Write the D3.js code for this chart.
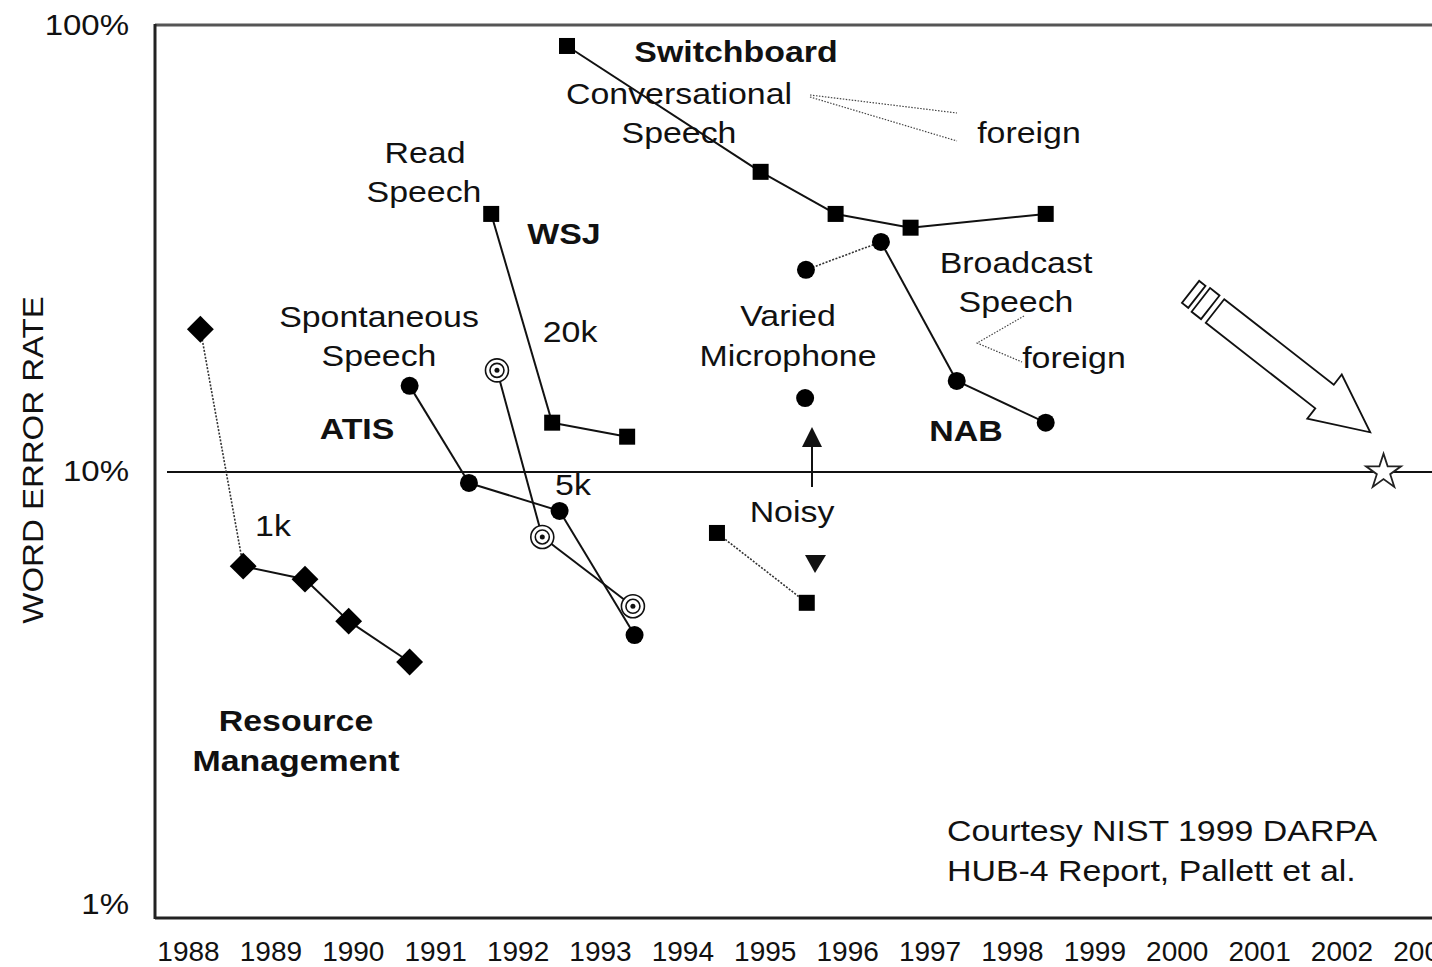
<!DOCTYPE html>
<html>
<head>
<meta charset="utf-8">
<script src="https://cdn.jsdelivr.net/npm/d3@7"></script>
<style>
  html, body { margin: 0; padding: 0; background: #fff; overflow: hidden; }
  text { font-family: "Liberation Sans", Arial, sans-serif; fill: #111; }
</style>
</head>
<body>
<script>
// ---------------- DATA ----------------
const yearTicks = [1988,1989,1990,1991,1992,1993,1994,1995,1996,1997,1998,1999,2000,2001,2002,2003];
const yTicks = [1, 10, 100];
const yTickLabels = ["1%", "10%", "100%"];

// Resource Management (1k) - diamonds
const rmYears = [1988.15, 1988.67, 1989.42, 1989.95, 1990.69];
const rmWER   = [20.9, 6.15, 5.75, 4.63, 3.75];
// ATIS spontaneous speech - filled circles
const atisYears = [1990.69, 1991.41, 1992.51, 1993.42];
const atisWER   = [15.6, 9.45, 8.18, 4.31];
// WSJ read speech 20k - squares
const wsj20kYears = [1991.68, 1992.42, 1993.33];
const wsj20kWER   = [37.9, 12.9, 12.0];
// WSJ read speech 5k - concentric circles
const wsj5kYears = [1991.75, 1992.30, 1993.40];
const wsj5kWER   = [16.9, 7.15, 5.0];
// Switchboard conversational speech - squares
const swbYears = [1992.60, 1994.95, 1995.86, 1996.77, 1998.41];
const swbWER   = [90.2, 47.1, 37.9, 35.3, 37.9];
// NAB / Broadcast speech - filled circles
const nabYears = [1995.50, 1996.41, 1997.33, 1998.41];
const nabWER   = [28.4, 32.8, 16.0, 12.9];
// Varied microphone - single circle
const micYears = [1995.49];
const micWER   = [14.65];
// Noisy - squares
const noisyYears = [1994.42, 1995.51];
const noisyWER   = [7.3, 5.09];
// Goal star
const goalYears = [2002.51];
const goalWER   = [10];

// ---------------- CHART ----------------
const W = 1432, H = 967;
const svg = d3.select("body").append("svg").attr("width", W).attr("height", H)
  .style("background", "#fff");

const x = d3.scaleLinear().domain([1988, 2002]).range([188, 1341.5]);
const y = d3.scaleLog().domain([1, 100]).range([918, 26]);

const zip = (a, b) => a.map((v, i) => [v, b[i]]);

// frame
svg.append("line").attr("x1", 155).attr("x2", W).attr("y1", 25).attr("y2", 25)
  .attr("stroke", "#555").attr("stroke-width", 3);
svg.append("line").attr("x1", 155).attr("x2", 155).attr("y1", 24).attr("y2", 919)
  .attr("stroke", "#222").attr("stroke-width", 3);
svg.append("line").attr("x1", 155).attr("x2", W).attr("y1", y(1)).attr("y2", y(1))
  .attr("stroke", "#222").attr("stroke-width", 3);
// 10% reference line
svg.append("line").attr("x1", 167).attr("x2", W).attr("y1", y(10)).attr("y2", y(10))
  .attr("stroke", "#111").attr("stroke-width", 2);

// x axis labels
const xAxis = d3.axisBottom(x).tickValues(yearTicks).tickFormat(d3.format("d"))
  .tickSize(0).tickPadding(23);
const gx = svg.append("g").attr("transform", `translate(0,${y(1)})`).call(xAxis);
gx.select(".domain").remove();
gx.selectAll("text").style("font-size", "28px").style("font-family", "Liberation Sans, Arial, sans-serif").attr("fill", "#111");

// y tick labels
yTicks.forEach((v, i) => {
  const off = v === 1 ? -4 : 9;
  svg.append("text")
    .attr("transform", `translate(129,${y(v) + off}) scale(1.1,1)`)
    .attr("text-anchor", "end").style("font-size", "30px")
    .text(yTickLabels[i]);
});

// y axis title
svg.append("text")
  .attr("transform", "translate(43,460) rotate(-90) scale(1.1,1)")
  .attr("text-anchor", "middle").style("font-size", "30px")
  .text("WORD ERROR RATE");

// ---- series lines ----
function drawSeries(pts, dotted) {
  for (let i = 0; i < pts.length - 1; i++) {
    const isDot = dotted[i];
    svg.append("line")
      .attr("x1", x(pts[i][0])).attr("y1", y(pts[i][1]))
      .attr("x2", x(pts[i + 1][0])).attr("y2", y(pts[i + 1][1]))
      .attr("stroke", isDot ? "#333" : "#111")
      .attr("stroke-width", isDot ? 1.6 : 2)
      .attr("stroke-dasharray", isDot ? "2,1.5" : null);
  }
}
const rmPts = zip(rmYears, rmWER);
const atisPts = zip(atisYears, atisWER);
const wsj20Pts = zip(wsj20kYears, wsj20kWER);
const wsj5Pts = zip(wsj5kYears, wsj5kWER);
const swbPts = zip(swbYears, swbWER);
const nabPts = zip(nabYears, nabWER);
const micPts = zip(micYears, micWER);
const noisyPts = zip(noisyYears, noisyWER);
const goalPts = zip(goalYears, goalWER);

drawSeries(rmPts, [true, false, false, false]);
drawSeries(atisPts, [false, false, false]);
drawSeries(wsj20Pts, [false, false]);
drawSeries(wsj5Pts, [false, false]);
drawSeries(swbPts, [false, false, false, false]);
drawSeries(nabPts, [true, false, false]);
drawSeries(noisyPts, [true]);

// ---- markers ----
function diamonds(pts) {
  svg.append("g").selectAll("rect").data(pts).join("rect")
    .attr("x", -9.5).attr("y", -9.5).attr("width", 19).attr("height", 19)
    .attr("transform", d => `translate(${x(d[0])},${y(d[1])}) rotate(45)`)
    .attr("fill", "#000");
}
function squares(pts) {
  svg.append("g").selectAll("rect").data(pts).join("rect")
    .attr("x", d => x(d[0]) - 8).attr("y", d => y(d[1]) - 8)
    .attr("width", 16).attr("height", 16).attr("fill", "#000");
}
function dots(pts) {
  svg.append("g").selectAll("circle").data(pts).join("circle")
    .attr("cx", d => x(d[0])).attr("cy", d => y(d[1])).attr("r", 9).attr("fill", "#000");
}
function rings(pts) {
  const g = svg.append("g").selectAll("g").data(pts).join("g")
    .attr("transform", d => `translate(${x(d[0])},${y(d[1])})`);
  g.append("circle").attr("r", 11.5).attr("fill", "#fff").attr("stroke", "#111").attr("stroke-width", 1.6);
  g.append("circle").attr("r", 7).attr("fill", "none").attr("stroke", "#111").attr("stroke-width", 1.6);
  g.append("circle").attr("r", 2.5).attr("fill", "#111");
}
diamonds(rmPts);
dots(atisPts);
squares(wsj20Pts);
rings(wsj5Pts);
squares(swbPts);
dots(nabPts);
dots(micPts);
squares(noisyPts);

// goal star
const star = d3.symbol().type(d3.symbolStar).size(380);
svg.append("g").selectAll("path").data(goalPts).join("path")
  .attr("d", star)
  .attr("transform", d => `translate(${x(d[0])},${y(d[1])})`)
  .attr("fill", "#fff").attr("stroke", "#222").attr("stroke-width", 1.8);

// ---- annotations ----
const labels = [
  {t: "Switchboard", x: 736, y: 62, b: true},
  {t: "Conversational", x: 679, y: 104},
  {t: "Speech", x: 679, y: 143},
  {t: "foreign", x: 1029, y: 143},
  {t: "Read", x: 425, y: 163},
  {t: "Speech", x: 424, y: 202},
  {t: "WSJ", x: 564, y: 244, b: true},
  {t: "Broadcast", x: 1016, y: 273},
  {t: "Speech", x: 1016, y: 312},
  {t: "foreign", x: 1074, y: 368},
  {t: "Spontaneous", x: 379, y: 327},
  {t: "Speech", x: 379, y: 366},
  {t: "20k", x: 570, y: 342},
  {t: "Varied", x: 788, y: 326},
  {t: "Microphone", x: 788, y: 366},
  {t: "ATIS", x: 357, y: 439, b: true},
  {t: "NAB", x: 966, y: 441, b: true},
  {t: "5k", x: 573, y: 495},
  {t: "Noisy", x: 792, y: 522},
  {t: "1k", x: 273, y: 536},
  {t: "Resource", x: 296, y: 731, b: true},
  {t: "Management", x: 296, y: 771, b: true},
  {t: "Courtesy NIST 1999 DARPA", x: 947, y: 841, a: "start"},
  {t: "HUB-4 Report, Pallett et al.", x: 947, y: 881, a: "start"}
];
labels.forEach(l => {
  svg.append("text")
    .attr("transform", `translate(${l.x},${l.y}) scale(1.13,1)`)
    .attr("text-anchor", l.a || "middle")
    .style("font-size", "30px")
    .style("font-weight", l.b ? "bold" : "normal")
    .text(l.t);
});

// dotted leader lines for "foreign"
const leaders = [
  [[810, 95], [957, 113]],
  [[810, 97], [957, 141]],
  [[1024, 316], [977, 343], [1022, 362]]
];
leaders.forEach(p => {
  svg.append("path").attr("d", d3.line()(p)).attr("fill", "none")
    .attr("stroke", "#444").attr("stroke-width", 1.2).attr("stroke-dasharray", "1.5,1.5");
});

// Noisy -> varied arrows
svg.append("line").attr("x1", 812).attr("x2", 812).attr("y1", 487).attr("y2", 445)
  .attr("stroke", "#111").attr("stroke-width", 2);
svg.append("path").attr("d", "M812,427 L802,447 L822,447 Z").attr("fill", "#111");
svg.append("path").attr("d", "M805,555 L826,555 L815,573 Z").attr("fill", "#111");

// big outlined arrow
const ag = svg.append("g").attr("transform", "translate(1215,311) rotate(38)")
  .attr("fill", "#fff").attr("stroke", "#111").attr("stroke-width", 1.8);
ag.append("path").attr("d", "M0,-15 L139,-15 L139,-28 L197,0 L139,28 L139,15 L0,15 Z");
ag.append("rect").attr("x", -18).attr("y", -15).attr("width", 12).attr("height", 30);
ag.append("rect").attr("x", -31).attr("y", -14).attr("width", 8).attr("height", 28);
</script>
</body>
</html>
